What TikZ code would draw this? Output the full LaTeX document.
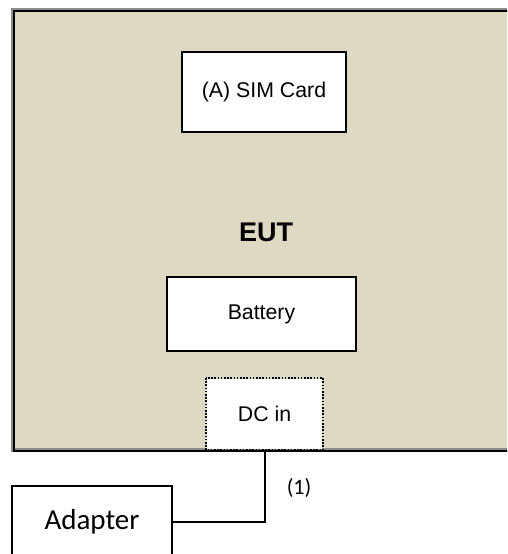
\documentclass[tikz,border=0pt]{standalone}
\usepackage{fontspec}
\setmainfont{Liberation Sans}
\newfontfamily\calib{Carlito}
\definecolor{eutfill}{HTML}{DDD9C3}
\begin{document}
\begin{tikzpicture}[x=1pt,y=-1pt,
  boxstyle/.style={draw=black,line width=2pt,fill=white,inner sep=0pt,font=\fontsize{21.3}{24}\selectfont},
]
\useasboundingbox (0,0) rectangle (507,554);
\clip (0,0) rectangle (507,554);
\path[draw=black!45,line width=3.4pt,fill=eutfill] (13,10) rectangle (530,450);
\node[draw=black,line width=2pt,minimum width=517pt,minimum height=440pt,anchor=north west,inner sep=0pt] (eut) at (13,10) {};
\node[font=\bfseries\fontsize{27}{30}\selectfont] (eutlabel) at (266,232) {EUT};
\node[boxstyle,minimum width=164pt,minimum height=80pt] (sim) at (264,92) {(A) SIM Card};
\node[boxstyle,minimum width=189pt,minimum height=74pt] (bat) at (261.5,314) {Battery};
\node[boxstyle,draw=none,minimum width=115pt,minimum height=70pt] (dc) at (264.5,414) {DC in};
\draw[black,line width=2pt,dash pattern=on 1.6pt off 1.6pt] (dc.north west) rectangle (dc.south east);
\node[boxstyle,font=\calib\fontsize{29}{32}\selectfont,minimum width=160pt,minimum height=72pt] (ad) at (92,522) {Adapter};
\draw[black,line width=2pt] (dc.south) |- (ad.east);
\node[font=\calib\fontsize{22}{24}\selectfont] (lbl) at (299,488) {(1)};
\end{tikzpicture}
\end{document}
